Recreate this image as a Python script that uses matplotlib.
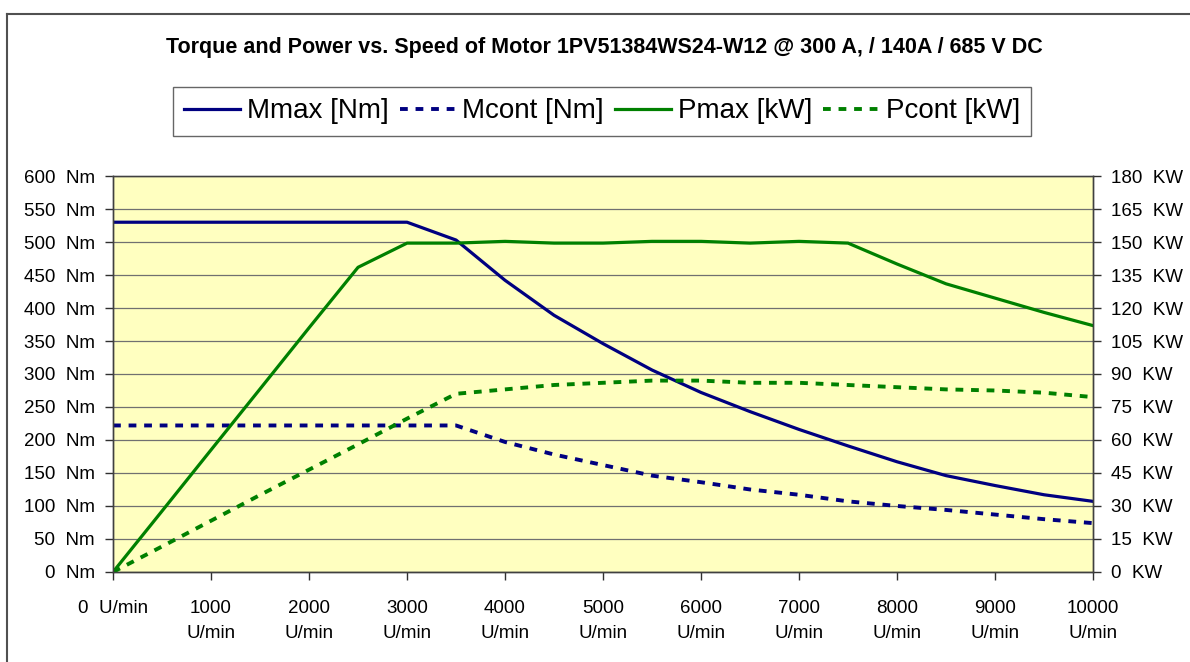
import matplotlib
matplotlib.use("Agg")
import matplotlib.pyplot as plt
from matplotlib.lines import Line2D
from matplotlib.ticker import FixedLocator, FuncFormatter

plt.rcParams['font.family'] = ['Liberation Sans', 'DejaVu Sans']

# speed in U/min, sampled every 500
speed = [0, 500, 1000, 1500, 2000, 2500, 3000, 3500, 4000, 4500, 5000,
         5500, 6000, 6500, 7000, 7500, 8000, 8500, 9000, 9500, 10000]
mmax = [530, 530, 530, 530, 530, 530, 530, 503, 442, 389, 346,
        306, 272, 243, 216, 191, 167, 146, 131, 117, 107]
mcont = [222, 222, 222, 222, 222, 222, 222, 222, 197, 178, 162,
         146, 136, 125, 117, 107, 100, 94, 87, 80, 74]
pmax = [0, 27.7, 55.5, 83.2, 111, 138.5, 149.5, 149.5, 150.3, 149.5, 149.5,
        150.3, 150.3, 149.5, 150.3, 149.5, 140, 131, 124.5, 118, 112]
pcont = [0, 11.6, 23.3, 35, 46.5, 58, 69.7, 81, 83, 85, 86,
         87, 87, 86, 86, 85, 84, 83, 82.5, 81.5, 79.5]

title = "Torque and Power vs. Speed of Motor 1PV51384WS24-W12 @ 300 A, / 140A / 685 V DC"
navy = "#000080"
green = "#008000"
dots = (0, (2, 2))

fig = plt.figure(figsize=(11.9, 6.62), dpi=100)
ax = fig.add_axes([0.0950, 0.1360, 0.8235, 0.5981])
ax2 = ax.twinx()

ax.set_facecolor("#FFFFC0")
ax.set_xlim(0, 10000)
ax.set_ylim(0, 600)
ax2.set_ylim(0, 180)

ax.plot(speed, mmax, color=navy, lw=2.3, label="Mmax [Nm]")
ax.plot(speed, mcont, color=navy, lw=2.8, ls=dots, label="Mcont [Nm]")
ax2.plot(speed, pmax, color=green, lw=2.3, label="Pmax [kW]")
ax2.plot(speed, pcont, color=green, lw=2.8, ls=dots, label="Pcont [kW]")

ax.yaxis.set_major_locator(FixedLocator(range(0, 601, 50)))
ax2.yaxis.set_major_locator(FixedLocator(range(0, 181, 15)))
ax.xaxis.set_major_locator(FixedLocator(range(0, 10001, 1000)))
ax.yaxis.set_major_formatter(FuncFormatter(lambda v, p: "%d  Nm" % v))
ax2.yaxis.set_major_formatter(FuncFormatter(lambda v, p: "%d  KW" % v))
ax.xaxis.set_major_formatter(FuncFormatter(
    lambda v, p: "0  U/min" if v == 0 else "%d\nU/min" % v))

ax.grid(axis="y", color="#707070", lw=0.9)
ax.set_axisbelow(True)
for a in (ax, ax2):
    a.tick_params(direction="out", length=6, width=1, color="#303030",
                  labelsize=13.5, pad=7)
    for s in a.spines.values():
        s.set_color("#404040")
        s.set_linewidth(1)
ax.tick_params(axis="x", pad=14)
ax.spines["top"].set_color("#909090")
for t in ax.get_xticklabels():
    t.set_linespacing(1.65)
    t.set_verticalalignment("top")

fig.text(0.508, 0.928, title, ha="center", va="center",
         fontsize=15.5, fontweight="bold")

handles = [h for a in (ax, ax2) for h in a.get_lines()]
leg = fig.legend(handles=handles, labels=[h.get_label() for h in handles],
                 loc="center", bbox_to_anchor=(0.506, 0.8316), ncol=4,
                 fontsize=20, frameon=True, fancybox=False,
                 handlelength=2.0, handletextpad=0.25, columnspacing=0.4,
                 borderpad=0.42, borderaxespad=0)
leg.get_frame().set_edgecolor("#404040")
leg.get_frame().set_linewidth(1)

# outer frame, only top and left edges show
fig.add_artist(Line2D([0.0059, 1], [0.9789, 0.9789], color="#505050", lw=1.5))
fig.add_artist(Line2D([0.0059, 0.0059], [0, 0.9789], color="#505050", lw=1.5))

fig.savefig("out.png", dpi=100)
